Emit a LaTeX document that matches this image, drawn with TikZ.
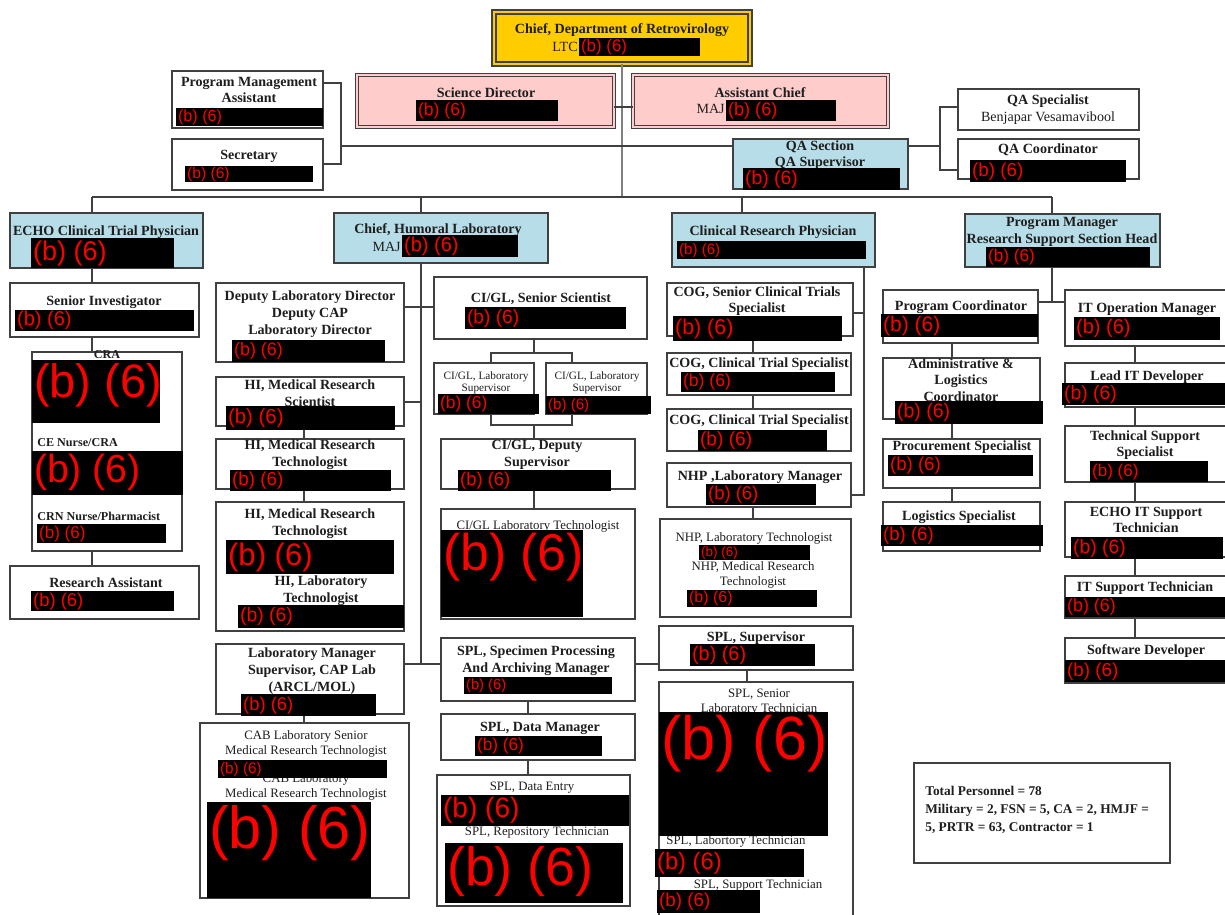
\documentclass[tikz,border=0pt]{standalone}
\usepackage{fontspec}
\setmainfont{Liberation Serif}
\setsansfont{Liberation Sans}
\usetikzlibrary{fit}

\definecolor{chiefgold}{RGB}{255,204,0}
\definecolor{staffpink}{RGB}{255,204,204}
\definecolor{leadblue}{RGB}{183,221,232}
\definecolor{linegray}{RGB}{64,64,64}
\definecolor{inkgray}{RGB}{30,30,30}

% a post: box from its top left to its bottom right corner
\newcommand{\orgbox}[6][postbox]{\node[#1,fit={(#3,#4) (#5,#6)}] (#2) {};}
% a blacked out name, with the exemption mark near its top left
\newcommand{\redact}[6]{%
  \pgfmathsetmacro{\rdxgap}{max(0,min(1.6,((#5)-(#3))*0.2835-0.47*#6))}%
  \node[blackout,fit={(#2,#3) (#4,#5)}] (#1) {};
  \node[redacted,font=\sffamily\fontsize{#6}{#6}\selectfont,yshift=-\rdxgap pt] (#1-t) at (#1.north west) {(b) (6)};}

\begin{document}
\begin{tikzpicture}[x=0.02cm,y=-0.02cm]
\tikzset{
  postbox/.style={draw=linegray,line width=0.8pt,fill=white,inner sep=0pt,outer sep=0pt},
  leadbox/.style={postbox,fill=leadblue},
  staffbox/.style={postbox,fill=staffpink,double=staffpink,double distance=1.1pt,line width=0.7pt},
  chiefbox/.style={postbox,fill=chiefgold,double=chiefgold,double distance=1.1pt,line width=0.9pt},
  blackout/.style={fill=black,inner sep=0pt,outer sep=0pt},
  redacted/.style={text=red,anchor=north west,inner xsep=1pt,inner ysep=0pt},
  title/.style={font=\bfseries\fontsize{8}{9.5}\selectfont,align=center,inner sep=0pt,text=inkgray},
  listing/.style={font=\fontsize{7.3}{8.5}\selectfont,align=center,inner sep=0pt,text=inkgray},
  smalllisting/.style={font=\fontsize{6.4}{6.6}\selectfont,align=center,inner sep=0pt,text=inkgray},
  boldlisting/.style={font=\bfseries\fontsize{6.9}{8}\selectfont,inner sep=0pt,text=inkgray},
  rank/.style={font=\fontsize{8}{9.5}\selectfont,inner sep=0pt,anchor=east,text=inkgray},
  link/.style={draw=linegray,line width=0.8pt},
  trunk/.style={draw=gray,line width=0.6pt}
}
\useasboundingbox (0,0) rectangle (1225,914);
\fill[white] (0,0) rectangle (1225,914);
\clip (0,0) rectangle (1225,914);

% junctions of the connector runs
\coordinate (mainbus) at (622,197);
\coordinate (sdjoin) at (622,107);
\coordinate (pmajoin) at (341,83);
\coordinate (secjoin) at (341,164);
\coordinate (staffbus) at (341,146);
\coordinate (qajoin) at (940,146);
\coordinate (qatop) at (940,107);
\coordinate (qabot) at (940,170);
\coordinate (echocol) at (92,197);
\coordinate (humcol) at (421,197);
\coordinate (crpcol) at (742,197);
\coordinate (pmcol) at (1052,197);
\coordinate (cigljoin) at (421,307);
\coordinate (hijoin) at (421,402);
\coordinate (splbus) at (421,664);
\coordinate (hicol) at (304,500);
\coordinate (ciglcol) at (534,500);
\coordinate (supltop) at (491,353);
\coordinate (suprtop) at (572,353);
\coordinate (suplbot) at (491,425);
\coordinate (suprbot) at (572,425);
\coordinate (splcol) at (528,700);
\coordinate (splsupcol) at (747,700);
\coordinate (cogjoin) at (864,313);
\coordinate (nhpjoin) at (864,495);
\coordinate (cogcol) at (753,400);
\coordinate (rsjoin) at (1052,302);
\coordinate (pccol) at (952,400);
\coordinate (itcol) at (1135,400);

% boxes
\orgbox[chiefbox]{chief}{494}{12}{750}{64}
\orgbox[staffbox]{scidir}{357}{75}{614}{127}
\orgbox[staffbox]{asst}{633}{75}{888}{127}
\orgbox{pma}{172}{71}{323}{128}
\orgbox{sec}{172}{139}{323}{190}
\orgbox[leadbox]{qasec}{733}{139}{908}{189}
\orgbox{qaspec}{958}{89}{1139}{130}
\orgbox{qacoord}{958}{139}{1139}{179}

\orgbox[leadbox]{echo}{10}{213}{203}{268}
\orgbox[leadbox]{hum}{334}{213}{548}{263}
\orgbox[leadbox]{crp}{672}{213}{875}{267}
\orgbox[leadbox]{pm}{965}{214}{1160}{267}

\orgbox{si}{10}{283}{199}{337}
\orgbox{cra}{32}{352}{182}{551}
\orgbox{ra}{10}{566}{199}{619}

\orgbox{dld}{216}{283}{404}{362}
\orgbox{hims}{216}{377}{404}{426}
\orgbox{himt}{216}{439}{404}{489}
\orgbox{hig}{216}{502}{404}{631}
\orgbox{labmgr}{216}{644}{404}{714}
\orgbox{cab}{200}{723}{409}{898}

\orgbox{cigl}{434}{277}{647}{339}
\orgbox{labsup1}{434}{363}{534}{414}
\orgbox{labsup2}{546}{363}{647}{414}
\orgbox{cigldep}{441}{439}{635}{489}
\orgbox{cigltech}{441}{509}{635}{619}
\orgbox{splspec}{441}{638}{635}{701}
\orgbox{spldm}{441}{714}{635}{760}
\orgbox{splde}{437}{775}{630}{906}

\orgbox{cogsr}{667}{283}{853}{336}
\orgbox{cogcts1}{667}{353}{851}{395}
\orgbox{cogcts2}{667}{409}{851}{451}
\orgbox{nhplm}{667}{463}{851}{507}
\orgbox{nhpg}{660}{519}{851}{617}
\orgbox{splsup}{659}{626}{853}{670}
\orgbox{splsr}{659}{682}{853}{930}

\orgbox{pc}{883}{290}{1038}{343}
\orgbox{alc}{883}{358}{1040}{419}
\orgbox{procs}{883}{439}{1040}{488}
\orgbox{logs}{883}{502}{1040}{551}

\orgbox{itom}{1065}{290}{1240}{346}
\orgbox{leadit}{1065}{363}{1240}{407}
\orgbox{tss}{1065}{426}{1240}{482}
\orgbox{echoit}{1065}{502}{1240}{557}
\orgbox{itst}{1065}{576}{1240}{618}
\orgbox{swdev}{1065}{638}{1240}{683}

\orgbox{totals}{914}{763}{1170}{863}

% connectors
\draw[trunk] (chief.south) -- (mainbus);
\draw[link] (scidir.east |- sdjoin) -- (asst.west |- sdjoin);
\draw[link] (pma.east |- pmajoin) -- (pmajoin) -- (secjoin) -- (sec.east |- secjoin);
\draw[link] (staffbus) -- (qasec.west |- staffbus);
\draw[link] (qasec.east |- qajoin) -- (qajoin);
\draw[link] (qaspec.west |- qatop) -- (qatop) -- (qabot) -- (qacoord.west |- qabot);

\draw[link] (echocol) -- (pmcol);
\draw[link] (echocol) -- (echo.north -| echocol);
\draw[link] (humcol) -- (hum.north -| humcol);
\draw[link] (crpcol) -- (crp.north -| crpcol);
\draw[link] (pmcol) -- (pm.north -| pmcol);

\draw[link] (echo.south -| echocol) -- (si.north -| echocol);
\draw[link] (si.south -| echocol) -- (cra.north -| echocol);
\draw[link] (cra.south -| echocol) -- (ra.north -| echocol);

\draw[link] (hum.south -| humcol) -- (splbus);
\draw[link] (dld.east |- cigljoin) -- (cigl.west |- cigljoin);
\draw[link] (hims.east |- hijoin) -- (hijoin);
\draw[link] (hims.south -| hicol) -- (himt.north -| hicol);
\draw[link] (himt.south -| hicol) -- (hig.north -| hicol);
\draw[link] (labmgr.south -| hicol) -- (cab.north -| hicol);
\draw[link] (labmgr.east |- splbus) -- (splspec.west |- splbus);
\draw[link] (splspec.east |- splbus) -- (splsup.west |- splbus);

\draw[link] (cigl.south -| ciglcol) -- (ciglcol |- supltop);
\draw[link] (labsup1.north -| supltop) -- (supltop) -- (suprtop) -- (labsup2.north -| suprtop);
\draw[link] (labsup1.south -| suplbot) -- (suplbot) -- (suprbot) -- (labsup2.south -| suprbot);
\draw[link] (ciglcol |- suplbot) -- (cigldep.north -| ciglcol);
\draw[link] (cigldep.south -| ciglcol) -- (cigltech.north -| ciglcol);
\draw[link] (splspec.south -| splcol) -- (spldm.north -| splcol);
\draw[link] (spldm.south -| splcol) -- (splde.north -| splcol);
\draw[link] (splsup.south -| splsupcol) -- (splsr.north -| splsupcol);

\draw[link] (crp.south -| cogjoin) -- (nhpjoin) -- (nhplm.east |- nhpjoin);
\draw[link] (cogsr.east |- cogjoin) -- (cogjoin);
\draw[link] (cogsr.south -| cogcol) -- (cogcts1.north -| cogcol);
\draw[link] (cogcts1.south -| cogcol) -- (cogcts2.north -| cogcol);
\draw[link] (nhplm.south -| cogcol) -- (nhpg.north -| cogcol);

\draw[link] (pm.south -| pmcol) -- (rsjoin);
\draw[link] (pc.east |- rsjoin) -- (itom.west |- rsjoin);
\draw[link] (pc.south -| pccol) -- (alc.north -| pccol);
\draw[link] (alc.south -| pccol) -- (procs.north -| pccol);
\draw[link] (procs.south -| pccol) -- (logs.north -| pccol);
\draw[link] (itom.south -| itcol) -- (leadit.north -| itcol);
\draw[link] (leadit.south -| itcol) -- (tss.north -| itcol);
\draw[link] (tss.south -| itcol) -- (echoit.north -| itcol);
\draw[link] (echoit.south -| itcol) -- (itst.north -| itcol);
\draw[link] (itst.south -| itcol) -- (swdev.north -| itcol);

% titles
\node[title] (chief-t) at (622,30) {Chief, Department of Retrovirology};
\node[rank] (chief-rank) at (578,47) {LTC};
\node[title] (scidir-t) at (486,93) {Science Director};
\node[title] (asst-t) at (760,93) {Assistant Chief};
\node[rank] (asst-rank) at (725,109) {MAJ};
\node[title] (pma-t) at (249,90) {Program Management\\Assistant};
\node[title] (sec-t) at (249,156) {Secretary};
\node[title] (qasec-t) at (820,155) {QA Section\\QA Supervisor};
\node[title] (qaspec-t) at (1048,101) {QA Specialist};
\node[listing,font=\fontsize{8}{9.5}\selectfont] (qaspec-n) at (1048,118) {Benjapar Vesamavibool};
\node[title] (qacoord-t) at (1048,150) {QA Coordinator};

\node[title] (echo-t) at (106,232) {ECHO Clinical Trial Physician};
\node[title] (hum-t) at (438,230) {Chief, Humoral Laboratory};
\node[rank] (hum-rank) at (401,247) {MAJ};
\node[title] (crp-t) at (773,232) {Clinical Research Physician};
\node[title] (pm-t) at (1062,232) {Program Manager\\Research Support Section Head};

\node[title] (si-t) at (104,302) {Senior Investigator};
\node[boldlisting] (cra-t) at (107,355) {CRA};
\node[boldlisting,anchor=west] (cen-t) at (37,443) {CE Nurse/CRA};
\node[boldlisting,anchor=west] (crn-t) at (37,516) {CRN Nurse/Pharmacist};
\node[title] (ra-t) at (106,583) {Research Assistant};

\node[title] (dld-t) at (310,314) {Deputy Laboratory Director\\Deputy CAP\\Laboratory Director};
\node[title] (hims-t) at (310,393) {HI, Medical Research\\Scientist};
\node[title] (himt-t) at (310,455) {HI, Medical Research\\Technologist};
\node[title] (hig-t) at (310,524) {HI, Medical Research\\Technologist};
\node[title] (higlt-t) at (321,591) {HI, Laboratory\\Technologist};
\node[title] (labmgr-t) at (312,671) {Laboratory Manager\\Supervisor, CAP Lab\\(ARCL/MOL)};
\node[listing] (cab-t) at (306,744) {CAB Laboratory Senior\\Medical Research Technologist};
\node[listing] (cabmrt-t) at (306,787) {CAB Laboratory\\Medical Research Technologist};

\node[title] (cigl-t) at (541,299) {CI/GL, Senior Scientist};
\node[smalllisting] (labsup1-t) at (486,383) {CI/GL, Laboratory\\Supervisor};
\node[smalllisting] (labsup2-t) at (597,383) {CI/GL, Laboratory\\Supervisor};
\node[title] (cigldep-t) at (537,455) {CI/GL, Deputy\\Supervisor};
\node[listing] (cigltech-t) at (538,526) {CI/GL Laboratory Technologist};
\node[title] (splspec-t) at (536,661) {SPL, Specimen Processing\\And Archiving Manager};
\node[title] (spldm-t) at (540,728) {SPL, Data Manager};
\node[listing] (splde-t) at (532,788) {SPL, Data Entry};
\node[listing] (splrep-t) at (537,832) {SPL, Repository Technician};

\node[title] (cogsr-t) at (757,301) {COG, Senior Clinical Trials\\Specialist};
\node[title] (cogcts1-t) at (759,364) {COG, Clinical Trial Specialist};
\node[title] (cogcts2-t) at (759,421) {COG, Clinical Trial Specialist};
\node[title] (nhplm-t) at (760,477) {NHP ,Laboratory Manager};
\node[listing] (nhplt-t) at (754,538) {NHP, Laboratory Technologist};
\node[listing] (nhpmrt-t) at (753,575) {NHP, Medical Research\\Technologist};
\node[title] (splsup-t) at (756,638) {SPL, Supervisor};
\node[listing] (splsr-t) at (759,702) {SPL, Senior\\Laboratory Technician};
\node[listing] (spllab-t) at (736,841) {SPL, Labortory Technician};
\node[listing] (splsupp-t) at (758,885) {SPL, Support Technician};

\node[title] (pc-t) at (961,307) {Program Coordinator};
\node[title] (alc-t) at (961,380) {Administrative \&\\Logistics\\Coordinator};
\node[title] (procs-t) at (962,447) {Procurement Specialist};
\node[title] (logs-t) at (959,517) {Logistics Specialist};
\node[title] (itom-t) at (1147,309) {IT Operation Manager};
\node[title] (leadit-t) at (1147,377) {Lead IT Developer};
\node[title] (tss-t) at (1145,445) {Technical Support\\Specialist};
\node[title] (echoit-t) at (1146,520) {ECHO IT Support\\Technician};
\node[title] (itst-t) at (1145,588) {IT Support Technician};
\node[title] (swdev-t) at (1146,651) {Software Developer};

\node[title,align=left,anchor=west,font=\bfseries\fontsize{7.6}{10.2}\selectfont] (totals-t) at (925,810)
  {Total Personnel = 78\\Military = 2, FSN = 5, CA = 2, HMJF =\\5, PRTR = 63, Contractor = 1};

% withheld names
\redact{chief-r}{579}{38}{700}{56}{9.6}
\redact{scidir-r}{416}{100}{558}{121}{10}
\redact{asst-r}{726}{100}{836}{121}{10.3}
\redact{pma-r}{176}{108}{323}{126}{9.2}
\redact{sec-r}{185}{166}{313}{182}{8.9}
\redact{qasec-r}{743}{168}{900}{190}{11}
\redact{qacoord-r}{970}{160}{1126}{182}{10.7}
\redact{echo-r}{31}{238}{174}{268}{15.4}
\redact{hum-r}{402}{235}{518}{257}{11.4}
\redact{crp-r}{677}{241}{866}{259}{8.6}
\redact{pm-r}{986}{247}{1150}{267}{9.8}
\redact{si-r}{15}{310}{194}{331}{11.4}
\redact{cra-r}{32}{360}{160}{423}{26.7}
\redact{cen-r}{32}{451}{183}{495}{22.3}
\redact{crn-r}{37}{524}{166}{543}{9.7}
\redact{ra-r}{31}{591}{174}{611}{10.5}
\redact{dld-r}{232}{340}{385}{362}{10.2}
\redact{hims-r}{226}{406}{395}{430}{11.6}
\redact{himt-r}{230}{470}{391}{491}{10.7}
\redact{hig-r}{226}{540}{394}{574}{17.7}
\redact{higlt-r}{238}{605}{404}{628}{11}
\redact{labmgr-r}{241}{694}{376}{716}{10.5}
\redact{cab-r}{218}{760}{387}{778}{8.7}
\redact{cabmrt-r}{207}{802}{371}{898}{33.8}
\redact{cigl-r}{465}{307}{626}{329}{10.9}
\redact{labsup1-r}{438}{394}{539}{414}{9.9}
\redact{labsup2-r}{546}{396}{651}{414}{8.6}
\redact{cigldep-r}{458}{470}{611}{491}{10.5}
\redact{cigltech-r}{441}{530}{583}{617}{29.4}
\redact{splspec-r}{464}{677}{612}{694}{8.4}
\redact{spldm-r}{475}{736}{602}{756}{9.8}
\redact{splde-r}{441}{795}{629}{826}{16}
\redact{splrep-r}{445}{843}{623}{903}{30.6}
\redact{cogsr-r}{673}{316}{842}{341}{12.2}
\redact{cogcts1-r}{681}{372}{835}{392}{10}
\redact{cogcts2-r}{698}{430}{827}{451}{10.9}
\redact{nhplm-r}{706}{484}{816}{505}{10.5}
\redact{nhplt-r}{699}{545}{810}{560}{7.7}
\redact{nhpmrt-r}{687}{590}{817}{607}{9.1}
\redact{splsup-r}{690}{644}{815}{666}{11.3}
\redact{splsr-r}{659}{712}{828}{836}{34.8}
\redact{spllab-r}{655}{849}{804}{877}{13.5}
\redact{splsupp-r}{657}{890}{760}{913}{10.7}
\redact{pc-r}{881}{314}{1038}{337}{12}
\redact{alc-r}{895}{401}{1043}{424}{11.1}
\redact{procs-r}{888}{455}{1033}{476}{10.6}
\redact{logs-r}{881}{525}{1043}{546}{10.6}
\redact{itom-r}{1074}{317}{1220}{340}{11.4}
\redact{leadit-r}{1062}{383}{1240}{405}{11}
\redact{tss-r}{1090}{461}{1208}{482}{9.7}
\redact{echoit-r}{1071}{537}{1223}{559}{11}
\redact{itst-r}{1065}{597}{1240}{617}{10.2}
\redact{swdev-r}{1065}{660}{1240}{682}{10.7}
\end{tikzpicture}
\end{document}
